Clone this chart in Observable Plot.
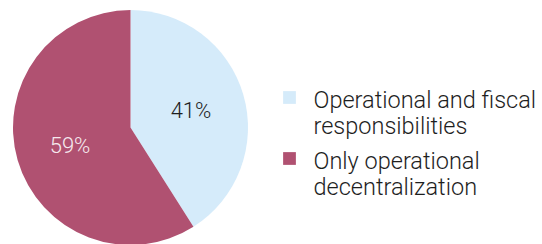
<!DOCTYPE html>
<html>
<head>
<meta charset="utf-8">
<script src="https://cdn.jsdelivr.net/npm/d3@7"></script>
<script src="https://cdn.jsdelivr.net/npm/@observablehq/plot@0.6"></script>
<style>
  html, body { margin: 0; padding: 0; background: #fff; }
  #chart svg { display: block; }
</style>
</head>
<body>
<div id="chart"></div>
<script>
// ---- data ----
const categories = ["Operational and fiscal responsibilities", "Only operational decentralization"];
const values = [41, 59];
const valueLabels = ["41%", "59%"];
const legendLines = ["Operational and fiscal\nresponsibilities", "Only operational\ndecentralization"];
const colors = ["#d5ebfa", "#b05171"];
const labelColors = ["#1e1e1e", "#f6e9ee"];

// ---- layout ----
const W = 542, H = 244;
const cx = 130.5, cy = 127.5, R = 117.5, labelR = 63;
const legendX = 289, legendTextX = 313, legendY0 = 88.5, legendStep = 61;
const font = "Roboto, 'Liberation Sans', sans-serif";

const rows = categories.map((c, i) => ({category: c, value: values[i], label: valueLabels[i], legend: legendLines[i], i}));

function pieMark(index, scales, channels, dimensions) {
  const color = scales.color ?? d3.scaleOrdinal(categories, colors);
  const pie = d3.pie().sort(null).value(d => d.value).startAngle(0).endAngle(2 * Math.PI)(rows);
  const arc = d3.arc().innerRadius(0).outerRadius(R);
  const labelArc = d3.arc().innerRadius(labelR).outerRadius(labelR);
  const g = d3.create("svg:g").attr("transform", `translate(${cx},${cy})`);
  g.selectAll("path").data(pie).join("path")
    .attr("d", arc)
    .attr("fill", d => color(d.data.category));
  g.selectAll("text").data(pie).join("text")
    .attr("transform", d => `translate(${labelArc.centroid(d)})`)
    .attr("text-anchor", "middle")
    .attr("dy", "0.36em")
    .attr("font-family", font)
    .attr("font-weight", 300)
    .attr("font-size", 22)
    .attr("fill", d => labelColors[d.data.i])
    .text(d => d.data.label);
  return g.node();
}

const plot = Plot.plot({
  width: W,
  height: H,
  margin: 0,
  x: {type: "identity", axis: null},
  y: {type: "identity", axis: null},
  color: {domain: categories, range: colors},
  style: {fontFamily: font, background: "#fff"},
  marks: [
    pieMark,
    Plot.dot(rows, {
      x: () => legendX,
      y: d => legendY0 + 8.5 + d.i * legendStep,
      symbol: "square",
      r: 7.2,
      fill: "category",
      stroke: null
    }),
    Plot.text(rows, {
      x: () => legendTextX,
      y: d => legendY0 + d.i * legendStep,
      text: "legend",
      textAnchor: "start",
      lineAnchor: "top",
      lineHeight: 1.12,
      fontSize: 23.5,
      fontWeight: 300,
      fill: "#1e1e1e"
    })
  ]
});
document.getElementById("chart").append(plot);
</script>
</body>
</html>
